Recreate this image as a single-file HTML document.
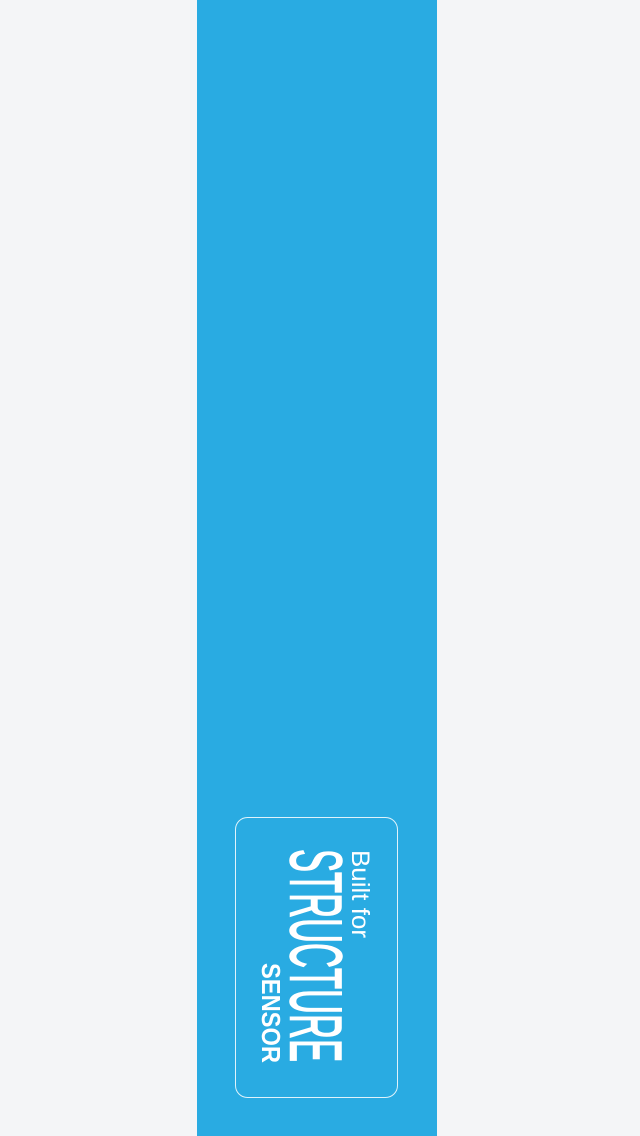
<!DOCTYPE html>
<html>
<head>
<meta charset="utf-8">
<style>
  html, body { margin: 0; padding: 0; }
  body { width: 640px; height: 1136px; background: #f4f5f7; position: relative; overflow: hidden; font-family: "Liberation Sans", sans-serif; }
  #band { position: absolute; left: 197px; top: 0; width: 240px; height: 1136px; background: #29abe2; }
  svg { position: absolute; left: 0; top: 0; }
</style>
</head>
<body>
<div id="band"></div>
<svg width="640" height="1136">
  <rect x="235.5" y="817.5" width="162" height="280" rx="12" ry="12" fill="none" stroke="#ffffff" stroke-opacity="0.85" stroke-width="1"/>
  <text transform="translate(352,850) rotate(90)" font-family="Liberation Sans, sans-serif" font-size="25" fill="#ffffff" textLength="88" lengthAdjust="spacingAndGlyphs">Built for</text>
  <text transform="translate(290.5,849) rotate(90)" font-family="Liberation Sans, sans-serif" font-size="73" fill="#ffffff" stroke="#ffffff" stroke-width="1.5" textLength="213" lengthAdjust="spacingAndGlyphs">STRUCTURE</text>
  <text transform="translate(262,963) rotate(90)" font-family="Liberation Sans, sans-serif" font-size="26" font-weight="bold" fill="#ffffff" textLength="100" lengthAdjust="spacingAndGlyphs">SENSOR</text>
</svg>
</body>
</html>
